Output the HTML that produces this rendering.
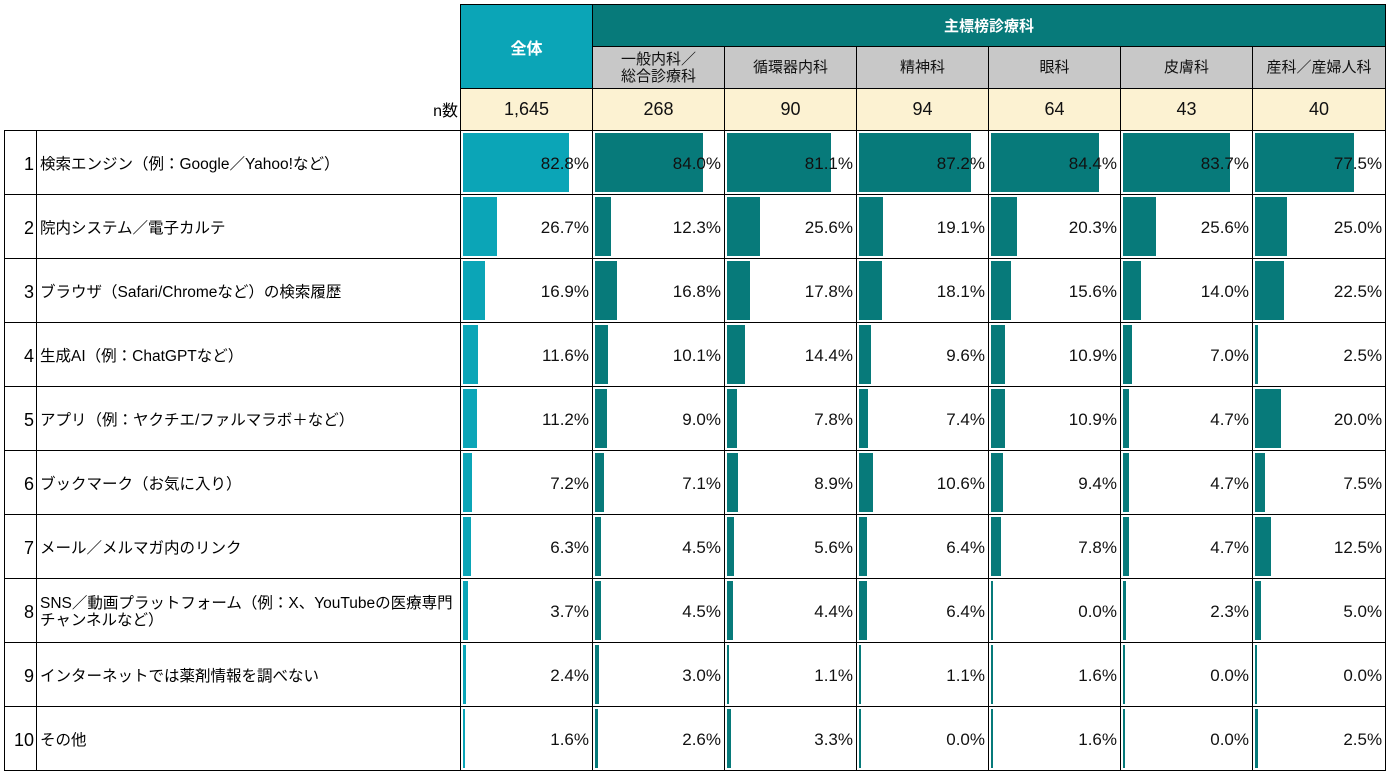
<!DOCTYPE html>
<html><head><meta charset="utf-8"><style>
body{margin:0;background:#fff;font-family:"Liberation Sans","Noto Sans CJK JP",sans-serif;}
table{position:absolute;left:4px;top:4px;border-collapse:collapse;table-layout:fixed;width:1381px;}
td{border:1.5px solid #000;padding:0;overflow:hidden;white-space:nowrap;}
td.nb{border:none;}
.h1{background:#077a7a;color:#fff;font-weight:bold;font-size:15px;text-align:center;}
.all{background:#0ba5b7;color:#fff;font-weight:bold;font-size:16px;text-align:center;}
.h2{background:#c8c8c8;font-size:15px;text-align:center;line-height:17px;color:#111;}
.n{background:#fcf2d2;font-size:18px;text-align:center;color:#111;}
.num{text-align:right;font-size:18px;padding-right:2px;padding-top:3px;}
.lab{font-size:15.5px;padding-left:3px;line-height:17px;padding-top:3px;overflow:visible;}
.c{position:relative;height:63px;}
.b{position:absolute;left:2px;top:2px;bottom:2px;min-width:2px;}
.g .b{background:#077a7a;}
.a .b{background:#0ba5b7;}
.v{position:absolute;right:3px;top:1px;line-height:63px;font-size:17px;color:#111;}
.bi{position:absolute;left:0;top:0;bottom:0;width:128px;}
</style></head><body>
<table>
<colgroup><col style="width:32px"><col style="width:424px"><col style="width:132px"><col style="width:132px"><col style="width:132px"><col style="width:132px"><col style="width:132px"><col style="width:132px"><col style="width:133px"></colgroup>
<tr style="height:42px"><td class="nb"></td><td class="nb"></td><td class="all" rowspan="2">全体</td><td class="h1" colspan="6">主標榜診療科</td></tr>
<tr style="height:42px"><td class="nb"></td><td class="nb"></td><td class="h2">一般内科／<br>総合診療科</td><td class="h2">循環器内科</td><td class="h2">精神科</td><td class="h2">眼科</td><td class="h2">皮膚科</td><td class="h2">産科／産婦人科</td></tr>
<tr style="height:42px"><td class="nb"></td><td class="nb" style="text-align:right;font-size:16px;padding-right:2px;border-bottom:1.5px solid #000">n数</td><td class="n">1,645</td><td class="n">268</td><td class="n">90</td><td class="n">94</td><td class="n">64</td><td class="n">43</td><td class="n">40</td></tr>

<tr><td class="num">1</td><td class="lab">検索エンジン（例：Google／Yahoo!など）</td>
<td class="c a"><div class="bi"><div class="b" style="width:82.8%"></div></div><span class="v">82.8%</span></td>
<td class="c g"><div class="bi"><div class="b" style="width:84.0%"></div></div><span class="v">84.0%</span></td>
<td class="c g"><div class="bi"><div class="b" style="width:81.1%"></div></div><span class="v">81.1%</span></td>
<td class="c g"><div class="bi"><div class="b" style="width:87.2%"></div></div><span class="v">87.2%</span></td>
<td class="c g"><div class="bi"><div class="b" style="width:84.4%"></div></div><span class="v">84.4%</span></td>
<td class="c g"><div class="bi"><div class="b" style="width:83.7%"></div></div><span class="v">83.7%</span></td>
<td class="c g"><div class="bi"><div class="b" style="width:77.5%"></div></div><span class="v">77.5%</span></td></tr>

<tr><td class="num">2</td><td class="lab">院内システム／電子カルテ</td>
<td class="c a"><div class="bi"><div class="b" style="width:26.7%"></div></div><span class="v">26.7%</span></td>
<td class="c g"><div class="bi"><div class="b" style="width:12.3%"></div></div><span class="v">12.3%</span></td>
<td class="c g"><div class="bi"><div class="b" style="width:25.6%"></div></div><span class="v">25.6%</span></td>
<td class="c g"><div class="bi"><div class="b" style="width:19.1%"></div></div><span class="v">19.1%</span></td>
<td class="c g"><div class="bi"><div class="b" style="width:20.3%"></div></div><span class="v">20.3%</span></td>
<td class="c g"><div class="bi"><div class="b" style="width:25.6%"></div></div><span class="v">25.6%</span></td>
<td class="c g"><div class="bi"><div class="b" style="width:25.0%"></div></div><span class="v">25.0%</span></td></tr>

<tr><td class="num">3</td><td class="lab">ブラウザ（Safari/Chromeなど）の検索履歴</td>
<td class="c a"><div class="bi"><div class="b" style="width:16.9%"></div></div><span class="v">16.9%</span></td>
<td class="c g"><div class="bi"><div class="b" style="width:16.8%"></div></div><span class="v">16.8%</span></td>
<td class="c g"><div class="bi"><div class="b" style="width:17.8%"></div></div><span class="v">17.8%</span></td>
<td class="c g"><div class="bi"><div class="b" style="width:18.1%"></div></div><span class="v">18.1%</span></td>
<td class="c g"><div class="bi"><div class="b" style="width:15.6%"></div></div><span class="v">15.6%</span></td>
<td class="c g"><div class="bi"><div class="b" style="width:14.0%"></div></div><span class="v">14.0%</span></td>
<td class="c g"><div class="bi"><div class="b" style="width:22.5%"></div></div><span class="v">22.5%</span></td></tr>

<tr><td class="num">4</td><td class="lab">生成AI（例：ChatGPTなど）</td>
<td class="c a"><div class="bi"><div class="b" style="width:11.6%"></div></div><span class="v">11.6%</span></td>
<td class="c g"><div class="bi"><div class="b" style="width:10.1%"></div></div><span class="v">10.1%</span></td>
<td class="c g"><div class="bi"><div class="b" style="width:14.4%"></div></div><span class="v">14.4%</span></td>
<td class="c g"><div class="bi"><div class="b" style="width:9.6%"></div></div><span class="v">9.6%</span></td>
<td class="c g"><div class="bi"><div class="b" style="width:10.9%"></div></div><span class="v">10.9%</span></td>
<td class="c g"><div class="bi"><div class="b" style="width:7.0%"></div></div><span class="v">7.0%</span></td>
<td class="c g"><div class="bi"><div class="b" style="width:2.5%"></div></div><span class="v">2.5%</span></td></tr>

<tr><td class="num">5</td><td class="lab">アプリ（例：ヤクチエ/ファルマラボ＋など）</td>
<td class="c a"><div class="bi"><div class="b" style="width:11.2%"></div></div><span class="v">11.2%</span></td>
<td class="c g"><div class="bi"><div class="b" style="width:9.0%"></div></div><span class="v">9.0%</span></td>
<td class="c g"><div class="bi"><div class="b" style="width:7.8%"></div></div><span class="v">7.8%</span></td>
<td class="c g"><div class="bi"><div class="b" style="width:7.4%"></div></div><span class="v">7.4%</span></td>
<td class="c g"><div class="bi"><div class="b" style="width:10.9%"></div></div><span class="v">10.9%</span></td>
<td class="c g"><div class="bi"><div class="b" style="width:4.7%"></div></div><span class="v">4.7%</span></td>
<td class="c g"><div class="bi"><div class="b" style="width:20.0%"></div></div><span class="v">20.0%</span></td></tr>

<tr><td class="num">6</td><td class="lab">ブックマーク（お気に入り）</td>
<td class="c a"><div class="bi"><div class="b" style="width:7.2%"></div></div><span class="v">7.2%</span></td>
<td class="c g"><div class="bi"><div class="b" style="width:7.1%"></div></div><span class="v">7.1%</span></td>
<td class="c g"><div class="bi"><div class="b" style="width:8.9%"></div></div><span class="v">8.9%</span></td>
<td class="c g"><div class="bi"><div class="b" style="width:10.6%"></div></div><span class="v">10.6%</span></td>
<td class="c g"><div class="bi"><div class="b" style="width:9.4%"></div></div><span class="v">9.4%</span></td>
<td class="c g"><div class="bi"><div class="b" style="width:4.7%"></div></div><span class="v">4.7%</span></td>
<td class="c g"><div class="bi"><div class="b" style="width:7.5%"></div></div><span class="v">7.5%</span></td></tr>

<tr><td class="num">7</td><td class="lab">メール／メルマガ内のリンク</td>
<td class="c a"><div class="bi"><div class="b" style="width:6.3%"></div></div><span class="v">6.3%</span></td>
<td class="c g"><div class="bi"><div class="b" style="width:4.5%"></div></div><span class="v">4.5%</span></td>
<td class="c g"><div class="bi"><div class="b" style="width:5.6%"></div></div><span class="v">5.6%</span></td>
<td class="c g"><div class="bi"><div class="b" style="width:6.4%"></div></div><span class="v">6.4%</span></td>
<td class="c g"><div class="bi"><div class="b" style="width:7.8%"></div></div><span class="v">7.8%</span></td>
<td class="c g"><div class="bi"><div class="b" style="width:4.7%"></div></div><span class="v">4.7%</span></td>
<td class="c g"><div class="bi"><div class="b" style="width:12.5%"></div></div><span class="v">12.5%</span></td></tr>

<tr><td class="num">8</td><td class="lab">SNS／動画プラットフォーム（例：X、YouTubeの医療専門<br>チャンネルなど）</td>
<td class="c a"><div class="bi"><div class="b" style="width:3.7%"></div></div><span class="v">3.7%</span></td>
<td class="c g"><div class="bi"><div class="b" style="width:4.5%"></div></div><span class="v">4.5%</span></td>
<td class="c g"><div class="bi"><div class="b" style="width:4.4%"></div></div><span class="v">4.4%</span></td>
<td class="c g"><div class="bi"><div class="b" style="width:6.4%"></div></div><span class="v">6.4%</span></td>
<td class="c g"><div class="bi"><div class="b" style="width:0%"></div></div><span class="v">0.0%</span></td>
<td class="c g"><div class="bi"><div class="b" style="width:2.3%"></div></div><span class="v">2.3%</span></td>
<td class="c g"><div class="bi"><div class="b" style="width:5.0%"></div></div><span class="v">5.0%</span></td></tr>

<tr><td class="num">9</td><td class="lab">インターネットでは薬剤情報を調べない</td>
<td class="c a"><div class="bi"><div class="b" style="width:2.4%"></div></div><span class="v">2.4%</span></td>
<td class="c g"><div class="bi"><div class="b" style="width:3.0%"></div></div><span class="v">3.0%</span></td>
<td class="c g"><div class="bi"><div class="b" style="width:1.1%"></div></div><span class="v">1.1%</span></td>
<td class="c g"><div class="bi"><div class="b" style="width:1.1%"></div></div><span class="v">1.1%</span></td>
<td class="c g"><div class="bi"><div class="b" style="width:1.6%"></div></div><span class="v">1.6%</span></td>
<td class="c g"><div class="bi"><div class="b" style="width:0%"></div></div><span class="v">0.0%</span></td>
<td class="c g"><div class="bi"><div class="b" style="width:0%"></div></div><span class="v">0.0%</span></td></tr>

<tr><td class="num">10</td><td class="lab">その他</td>
<td class="c a"><div class="bi"><div class="b" style="width:1.6%"></div></div><span class="v">1.6%</span></td>
<td class="c g"><div class="bi"><div class="b" style="width:2.6%"></div></div><span class="v">2.6%</span></td>
<td class="c g"><div class="bi"><div class="b" style="width:3.3%"></div></div><span class="v">3.3%</span></td>
<td class="c g"><div class="bi"><div class="b" style="width:0%"></div></div><span class="v">0.0%</span></td>
<td class="c g"><div class="bi"><div class="b" style="width:1.6%"></div></div><span class="v">1.6%</span></td>
<td class="c g"><div class="bi"><div class="b" style="width:0%"></div></div><span class="v">0.0%</span></td>
<td class="c g"><div class="bi"><div class="b" style="width:2.5%"></div></div><span class="v">2.5%</span></td></tr>
</table>
</body></html>
